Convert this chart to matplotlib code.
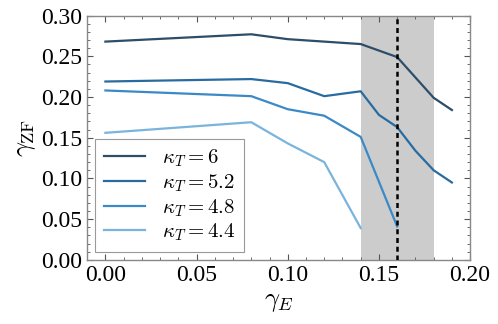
import matplotlib
matplotlib.use("Agg")
import matplotlib.pyplot as plt
from matplotlib.ticker import MultipleLocator

# data
x6 = [0.0, 0.08, 0.10, 0.12, 0.14, 0.16, 0.18, 0.19]
y6 = [0.268, 0.277, 0.271, 0.268, 0.265, 0.249, 0.199, 0.184]

x52 = [0.0, 0.08, 0.10, 0.12, 0.14, 0.15, 0.16, 0.17, 0.18, 0.19]
y52 = [0.219, 0.222, 0.217, 0.201, 0.207, 0.178, 0.163, 0.134, 0.110, 0.095]

x48 = [0.0, 0.08, 0.10, 0.12, 0.14, 0.16]
y48 = [0.208, 0.201, 0.185, 0.177, 0.151, 0.041]

x44 = [0.0, 0.08, 0.10, 0.12, 0.14]
y44 = [0.156, 0.169, 0.143, 0.120, 0.039]

labels = [r'$\kappa_T = 6$', r'$\kappa_T = 5.2$', r'$\kappa_T = 4.8$', r'$\kappa_T = 4.4$']
colors = ['#2e4d69', '#2a6b9f', '#3b89c6', '#7ab4dd']

band = (0.14, 0.18)
vline = 0.16

plt.rcParams['font.family'] = ['Liberation Serif', 'DejaVu Serif']
plt.rcParams['mathtext.fontset'] = 'cm'

fig = plt.figure(figsize=(4.98, 3.24), dpi=100)
ax = fig.add_axes([0.175, 0.198, 0.769, 0.754])

ax.axvspan(band[0], band[1], color='#cccccc', lw=0, zorder=0)
ax.axvline(vline, color='black', ls=(0, (2, 1.5)), lw=1.8, zorder=3)

for xs, ys, lab, c in zip([x6, x52, x48, x44], [y6, y52, y48, y44], labels, colors):
    ax.plot(xs, ys, color=c, lw=1.6, label=lab, zorder=2)

ax.set_xlim(-0.01, 0.20)
ax.set_ylim(0, 0.30)
ax.xaxis.set_major_locator(MultipleLocator(0.05))
ax.xaxis.set_minor_locator(MultipleLocator(0.01))
ax.yaxis.set_major_locator(MultipleLocator(0.05))
ax.yaxis.set_minor_locator(MultipleLocator(0.01))
ax.tick_params(which='both', direction='in', top=True, right=True, color='#555555', labelsize=17)
ax.tick_params(which='major', length=4, width=0.8)
ax.tick_params(which='minor', length=2, width=0.6)
for s in ax.spines.values():
    s.set_color('#888888')
    s.set_linewidth(1.0)

ax.set_xlabel(r'$\gamma_E$', fontsize=19, labelpad=4)
ax.set_ylabel(r'$\gamma_{\rm ZF}$', fontsize=19, labelpad=2)

leg = ax.legend(loc='lower left', fontsize=15, fancybox=False, edgecolor='#999999',
                framealpha=1, handlelength=2.0, handletextpad=0.8,
                borderaxespad=0.4, labelspacing=0.15, borderpad=0.4)
leg.get_frame().set_linewidth(0.8)

fig.savefig('out.png', dpi=100)
